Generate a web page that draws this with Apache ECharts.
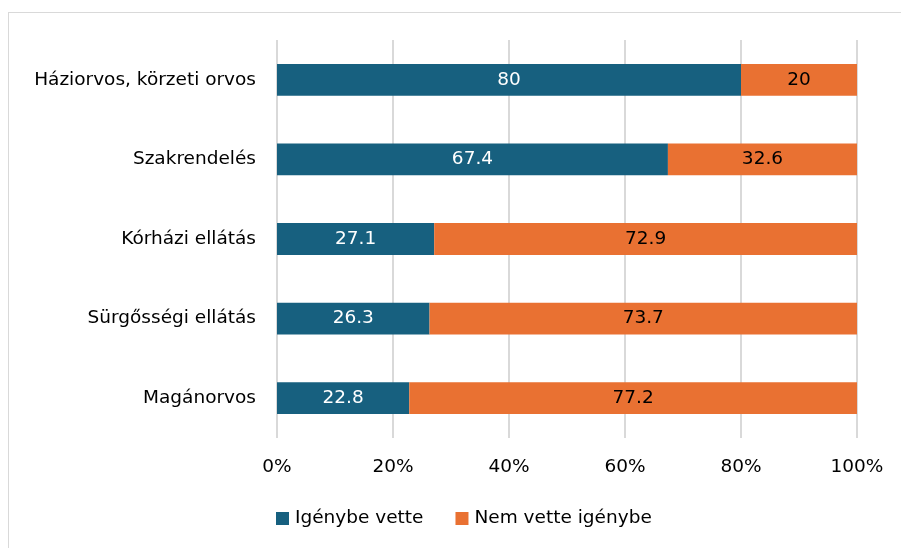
<!DOCTYPE html>
<html>
<head>
<meta charset="utf-8">
<script src="https://cdn.jsdelivr.net/npm/echarts@6/dist/echarts.min.js"></script>
<style>
  html, body { margin: 0; padding: 0; background: #ffffff; overflow: hidden; width: 901px; height: 548px; }
  .frame { position: absolute; left: 8px; top: 12px; width: 1200px; height: 800px; border-left: 1px solid #d9d9d9; border-top: 1px solid #d9d9d9; box-sizing: border-box; }
  #main { position: absolute; left: 0; top: 0; width: 901px; height: 548px; }
</style>
</head>
<body>
<div class="frame"></div>
<div id="main"></div>
<script>
// kategóriák (felülről lefelé)
var categories = ['Háziorvos, körzeti orvos', 'Szakrendelés', 'Kórházi ellátás', 'Sürgősségi ellátás', 'Magánorvos']
var igenybeVette = [80, 67.4, 27.1, 26.3, 22.8]
var nemVette = [20, 32.6, 72.9, 73.7, 77.2]
var seriesNames = ['Igénybe vette', 'Nem vette igénybe']
var tickLabels = ['0%', '20%', '40%', '60%', '80%', '100%']

var fontFamily = '"DejaVu Sans", sans-serif'
var fs = 18.5
var chart = echarts.init(document.getElementById('main'))
var option = {
  animation: false,
  textStyle: { fontFamily: fontFamily },
  color: ['#17607f', '#e97132'],
  grid: { left: 277, right: 44, top: 40, bottom: 110, containLabel: false },
  legend: {
    data: seriesNames,
    bottom: 20,
    left: 276,
    padding: 0,
    itemWidth: 13,
    itemHeight: 13,
    itemGap: 32,
    icon: 'rect',
    textStyle: { fontSize: fs, color: '#000', fontFamily: fontFamily, padding: [0, 0, 0, 1] }
  },
  xAxis: {
    type: 'value',
    min: 0,
    max: 100,
    interval: 20,
    axisLine: { show: false },
    axisTick: { show: false },
    axisLabel: {
      fontSize: fs,
      color: '#000',
      margin: 20,
      formatter: function (v) { return tickLabels[Math.round(v / 20)] }
    },
    splitLine: { show: true, lineStyle: { color: '#d9d9d9', width: 2 } }
  },
  yAxis: {
    type: 'category',
    data: categories,
    inverse: true,
    axisLine: { show: false },
    axisTick: { show: false },
    axisLabel: { fontSize: fs, color: '#000', margin: 21 }
  },
  series: [
    {
      name: seriesNames[0],
      type: 'bar',
      stack: 'total',
      barCategoryGap: '60%',
      data: igenybeVette,
      label: { show: true, position: 'inside', color: '#fff', fontSize: fs }
    },
    {
      name: seriesNames[1],
      type: 'bar',
      stack: 'total',
      barCategoryGap: '60%',
      data: nemVette,
      label: { show: true, position: 'inside', color: '#000', fontSize: fs }
    }
  ]
}
chart.setOption(option)
</script>
</body>
</html>
